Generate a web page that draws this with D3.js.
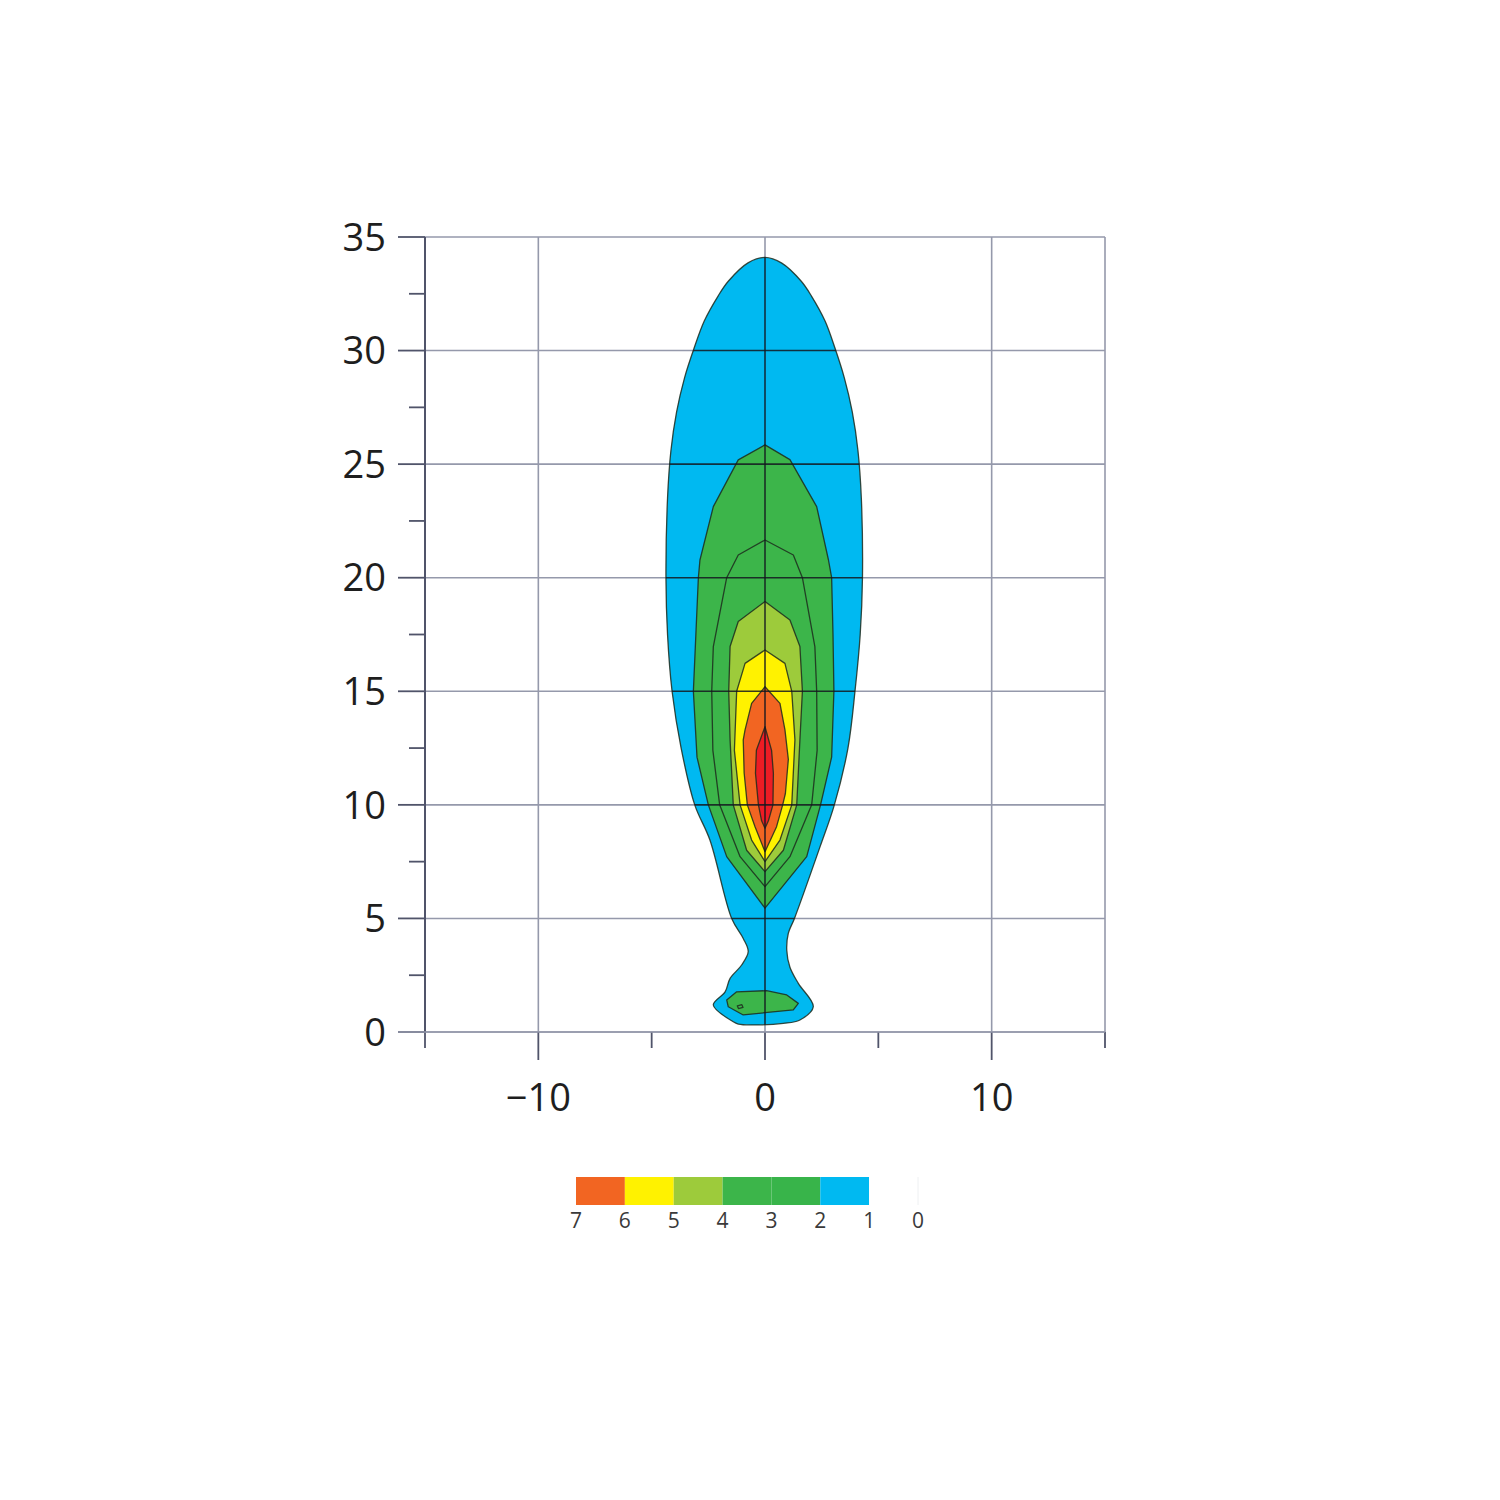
<!DOCTYPE html>
<html>
<head>
<meta charset="utf-8">
<script src="https://cdn.jsdelivr.net/npm/d3@7"></script>
<style>
  html, body { margin: 0; padding: 0; background: #ffffff; }
  svg { display: block; }
</style>
</head>
<body>
<svg id="chart" width="1500" height="1500"></svg>
<script>
// ---------------- data ----------------
const xDomain = [-15, 15];
const yDomain = [0, 35];
const xTickLabels = [-10, 0, 10];
const xGridValues = [-15, -10, 0, 10, 15];
const xMinorTicks = [-15, -5, 5, 15];
const yTickLabels = [0, 5, 10, 15, 20, 25, 30, 35];
const yMinorTicks = [2.5, 7.5, 12.5, 17.5, 22.5, 27.5, 32.5];

// contour polygons, [x, y] in data units
const level1 = [[0,34.1],[0.74,33.85],[1.6,33.05],[2.05,32.4],[2.65,31.3],[3.09,30.1],[3.5,28.8],[3.85,27.3],[4.1,25.6],[4.25,23.5],[4.3,20],[4.2,17.5],[3.97,15],[3.66,12.5],[3.06,10],[2.43,8.16],[1.3,5.0],[1.03,4.35],[0.96,3.6],[1.1,2.85],[1.47,2.14],[2.13,1.11],[1.54,0.53],[0.81,0.38],[-0.59,0.31],[-1.18,0.35],[-1.4,0.45],[-2.28,1.19],[-1.76,1.77],[-1.54,2.36],[-1.03,2.95],[-0.74,3.54],[-0.96,4.12],[-1.47,5.0],[-2.43,8.45],[-3.1,10],[-3.7,12.5],[-4.1,15],[-4.3,17.5],[-4.37,20],[-4.3,23.5],[-4.15,25.6],[-3.9,27.3],[-3.55,28.8],[-3.13,30.1],[-2.68,31.3],[-2.07,32.4],[-1.62,33.05],[-0.75,33.86]];
const level2 = [[0,25.85],[1.1,25.2],[2.28,23.13],[2.8,20.78],[2.94,20],[3.0,17.5],[3.04,15],[2.94,12.1],[2.45,10],[1.84,7.72],[0,5.45],[-1.69,7.72],[-2.5,10],[-3.0,12.1],[-3.16,15],[-3.05,17.5],[-2.94,20],[-2.87,20.78],[-2.28,23.13],[-1.18,25.19]];
const level2Low = [[-1.25,1.77],[0.07,1.82],[0.96,1.63],[1.47,1.26],[1.25,0.97],[0,0.85],[-0.96,0.75],[-1.62,1.11],[-1.69,1.41]];
const level3 = [[0,21.66],[1.25,21.0],[1.65,20],[2.2,16.97],[2.28,15],[2.3,12.4],[2.06,10],[1.1,7.72],[0,6.4],[-1.1,7.72],[-2.0,10],[-2.3,12.4],[-2.35,15],[-2.28,16.97],[-1.69,20],[-1.18,21.0]];
const level3Low = [[-1.22,1.15],[-1.02,1.2],[-0.97,1.08],[-1.17,1.03]];
const level4 = [[0,18.95],[1.1,18.14],[1.54,16.97],[1.65,15],[1.54,12.86],[1.4,10],[0.81,8.0],[0,7.06],[-0.81,8.0],[-1.4,10],[-1.54,12.86],[-1.6,15],[-1.54,16.97],[-1.18,18.07]];
const level5 = [[0,16.82],[0.88,16.23],[1.18,15],[1.32,12.86],[1.18,10],[0.66,8.45],[0,7.5],[-0.59,8.45],[-1.1,10],[-1.35,12.4],[-1.25,15],[-0.88,16.23]];
const level6 = [[0,15.2],[0.66,14.47],[0.88,13.3],[1.03,12.0],[0.9,10.5],[0.78,10],[0.51,9.04],[0,7.94],[-0.44,9.04],[-0.78,10],[-0.92,11.4],[-0.96,12.86],[-0.88,13.3],[-0.59,14.47]];
const level7 = [[0,13.44],[0.29,12.4],[0.37,11.39],[0.35,10],[0.15,9.3],[0,8.97],[-0.15,9.3],[-0.29,10],[-0.42,11.39],[-0.38,12.4]];

const levelFills = ["#00b9f1", "#3cb54a", "#3cb54a", "#9dcb3b", "#fff200", "#f26522", "#ed1c24"];

// legend
const legendLabels = ["7", "6", "5", "4", "3", "2", "1", "0"];
const legendColors = ["#f26522", "#fff200", "#9dcb3b", "#3cb54a", "#38b44a", "#00b9f1", "#ffffff"];

// ---------------- drawing ----------------
const svg = d3.select("#chart");
const x = d3.scaleLinear().domain(xDomain).range([425, 1105]);
const y = d3.scaleLinear().domain(yDomain).range([1032, 237]);

const gridColor = "#9599ab";
const axisColor = "#50546a";

// grid (under)
const grid = svg.append("g");
grid.selectAll("line.h").data(yTickLabels).join("line")
  .attr("x1", x(-15)).attr("x2", x(15))
  .attr("y1", d => y(d)).attr("y2", d => y(d))
  .attr("stroke", gridColor).attr("stroke-width", 1.6);
grid.selectAll("line.v").data(xGridValues).join("line")
  .attr("x1", d => x(d)).attr("x2", d => x(d))
  .attr("y1", y(35)).attr("y2", y(0))
  .attr("stroke", d => d === -15 ? axisColor : gridColor).attr("stroke-width", d => d === -15 ? 2 : 1.6);

// y ticks
grid.selectAll("line.ymaj").data(yTickLabels).join("line")
  .attr("x1", x(-15) - 27).attr("x2", x(-15))
  .attr("y1", d => y(d)).attr("y2", d => y(d))
  .attr("stroke", axisColor).attr("stroke-width", 1.8);
grid.selectAll("line.ymin").data(yMinorTicks).join("line")
  .attr("x1", x(-15) - 16).attr("x2", x(-15))
  .attr("y1", d => y(d)).attr("y2", d => y(d))
  .attr("stroke", axisColor).attr("stroke-width", 1.8);
// x ticks
grid.selectAll("line.xmaj").data(xTickLabels).join("line")
  .attr("x1", d => x(d)).attr("x2", d => x(d))
  .attr("y1", y(0)).attr("y2", y(0) + 28)
  .attr("stroke", axisColor).attr("stroke-width", 1.8);
grid.selectAll("line.xmin").data(xMinorTicks).join("line")
  .attr("x1", d => x(d)).attr("x2", d => x(d))
  .attr("y1", y(0)).attr("y2", y(0) + 16)
  .attr("stroke", axisColor).attr("stroke-width", 1.8);
// x axis line extends left to major y tick
grid.append("line").attr("x1", x(-15) - 27).attr("x2", x(15))
  .attr("y1", y(0)).attr("y2", y(0)).attr("stroke", gridColor).attr("stroke-width", 1.6);

// contours
const smoothLine = d3.line().x(d => x(d[0])).y(d => y(d[1])).curve(d3.curveCatmullRomClosed.alpha(0.5));
const polyLine = d3.line().x(d => x(d[0])).y(d => y(d[1])).curve(d3.curveLinearClosed);

const contourLayers = [
  { pts: level1, fill: levelFills[0], gen: smoothLine },
  { pts: level2, fill: levelFills[1], gen: polyLine },
  { pts: level2Low, fill: levelFills[1], gen: polyLine },
  { pts: level3, fill: levelFills[2], gen: polyLine },
  { pts: level3Low, fill: levelFills[2], gen: polyLine },
  { pts: level4, fill: levelFills[3], gen: polyLine },
  { pts: level5, fill: levelFills[4], gen: polyLine },
  { pts: level6, fill: levelFills[5], gen: polyLine },
  { pts: level7, fill: levelFills[6], gen: polyLine }
];
const cg = svg.append("g");
cg.selectAll("path").data(contourLayers).join("path")
  .attr("d", d => d.gen(d.pts))
  .attr("fill", d => d.fill)
  .attr("stroke", "#1d2b1d")
  .attr("stroke-opacity", 0.85)
  .attr("stroke-width", 1.3)
  .attr("stroke-linejoin", "round");

// dark grid over the coloured area
svg.append("clipPath").attr("id", "outerClip")
  .append("path").attr("d", smoothLine(level1));
const og = svg.append("g").attr("clip-path", "url(#outerClip)");
og.selectAll("line.h").data(yTickLabels).join("line")
  .attr("x1", x(-15)).attr("x2", x(15))
  .attr("y1", d => y(d)).attr("y2", d => y(d))
  .attr("stroke", "#141820").attr("stroke-opacity", 0.85).attr("stroke-width", 1.6);
og.selectAll("line.v").data(xGridValues).join("line")
  .attr("x1", d => x(d)).attr("x2", d => x(d))
  .attr("y1", y(35)).attr("y2", y(0))
  .attr("stroke", "#141820").attr("stroke-opacity", 0.85).attr("stroke-width", 1.6);

// tick labels
const fontFam = "'Open Sans', 'Noto Sans', sans-serif";
svg.append("g").selectAll("text").data(yTickLabels).join("text")
  .attr("x", 386).attr("y", d => y(d))
  .attr("dy", "0.36em")
  .attr("text-anchor", "end")
  .attr("font-family", fontFam).attr("font-size", 38)
  .attr("fill", "#1e1e1e")
  .text(d => d);
svg.append("g").selectAll("text").data(xTickLabels).join("text")
  .attr("x", d => x(d)).attr("y", 1111)
  .attr("text-anchor", "middle")
  .attr("font-family", fontFam).attr("font-size", 38)
  .attr("fill", "#1e1e1e")
  .text(d => d < 0 ? "\u2212" + Math.abs(d) : d);

// legend
const lx = d3.scaleLinear().domain([7, 0]).range([576, 918]);
const lg = svg.append("g");
lg.selectAll("rect").data(legendColors).join("rect")
  .attr("x", (d, i) => lx(7 - i)).attr("y", 1177)
  .attr("width", (d, i) => lx(6 - i) - lx(7 - i)).attr("height", 28)
  .attr("fill", d => d);
lg.append("line").attr("x1", lx(0)).attr("x2", lx(0)).attr("y1", 1177).attr("y2", 1205)
  .attr("stroke", "#eef0f2").attr("stroke-width", 1);
lg.selectAll("text").data(legendLabels).join("text")
  .attr("x", d => lx(+d)).attr("y", 1228)
  .attr("text-anchor", "middle")
  .attr("font-family", fontFam).attr("font-size", 21)
  .attr("fill", "#3a3a3a")
  .text(d => d);
</script>
</body>
</html>
